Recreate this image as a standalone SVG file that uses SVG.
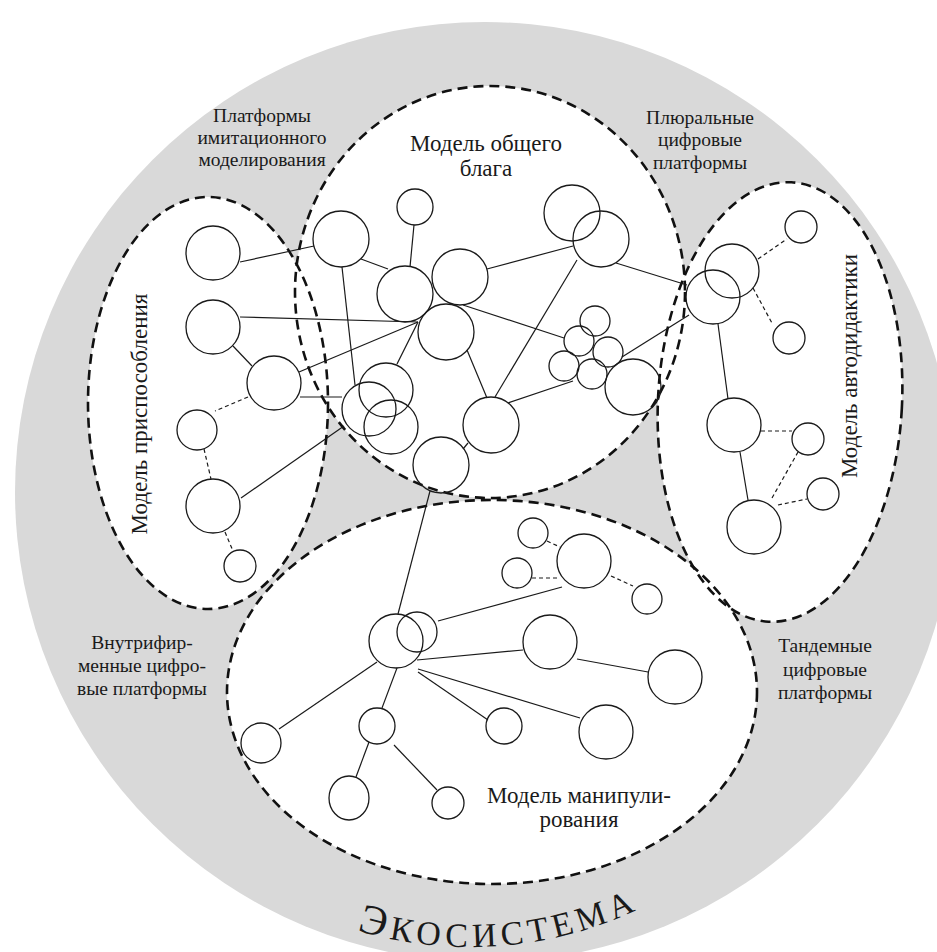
<svg xmlns="http://www.w3.org/2000/svg" width="937" height="952" viewBox="0 0 937 952">
<style>
.bg{fill:#ffffff}
.eco{fill:#d9d9d9}
.rfill{fill:#ffffff;stroke:none}
.rline{fill:none;stroke:#111;stroke-width:2.6;stroke-dasharray:10 6}
.n{fill:none;stroke:#1a1a1a;stroke-width:1.3}
.e{stroke:#1a1a1a;stroke-width:1.2;fill:none}
.d{stroke:#1a1a1a;stroke-width:1.2;fill:none;stroke-dasharray:4 3}
.t{font-family:"Liberation Serif","Times New Roman",serif;fill:#1a1a1a;text-anchor:middle}
.s{font-size:19.5px}
.m{font-size:23px}
</style>
<defs>
<path id="arc" d="M 77,554 A 393 393 0 0 0 863,554"/>
</defs>
<rect class="bg" x="0" y="0" width="937" height="952"/>
<g id="ecosystem">
<circle class="eco" cx="485" cy="492" r="470"/>
<text class="t" style="letter-spacing:5px;font-size:34px"><textPath href="#arc" startOffset="52.5%"><tspan style="font-size:42px">Э</tspan>КОСИСТЕМА</textPath></text>
</g>
<g id="regions">
<ellipse class="rfill" cx="208" cy="403" rx="120" ry="206"/>
<ellipse class="rfill" cx="490" cy="292" rx="195" ry="206"/>
<ellipse class="rfill" cx="780" cy="402" rx="122" ry="220" transform="rotate(3 780 402)"/>
<ellipse class="rfill" cx="492" cy="692" rx="265" ry="192"/>
<ellipse class="rline" cx="208" cy="403" rx="120" ry="206"/>
<ellipse class="rline" cx="490" cy="292" rx="195" ry="206"/>
<ellipse class="rline" cx="780" cy="402" rx="122" ry="220" transform="rotate(3 780 402)"/>
<ellipse class="rline" cx="492" cy="692" rx="265" ry="192"/>
</g>
<g id="connectors">
<line class="e" x1="240" y1="262" x2="314" y2="246"/>
<line class="e" x1="240" y1="317" x2="418" y2="322"/>
<line class="e" x1="233" y1="346" x2="252" y2="366"/>
<line class="e" x1="299" y1="372" x2="418" y2="322"/>
<line class="e" x1="300" y1="397" x2="342" y2="397"/>
<line class="e" x1="241" y1="498" x2="344" y2="426"/>
<line class="d" x1="248" y1="397" x2="215" y2="411"/>
<line class="d" x1="204" y1="449" x2="211" y2="479"/>
<line class="d" x1="225" y1="532" x2="233" y2="551"/>
<line class="e" x1="361" y1="259" x2="388" y2="269"/>
<line class="e" x1="414" y1="225" x2="410" y2="267"/>
<line class="e" x1="342" y1="267" x2="355" y2="385"/>
<line class="e" x1="487" y1="269" x2="573" y2="246"/>
<line class="e" x1="463" y1="305" x2="564" y2="338"/>
<line class="e" x1="467" y1="350" x2="487" y2="398"/>
<line class="e" x1="577" y1="260" x2="495" y2="397"/>
<line class="e" x1="508" y1="403" x2="573" y2="381"/>
<line class="e" x1="616" y1="263" x2="687" y2="285"/>
<line class="e" x1="622" y1="357" x2="689" y2="315"/>
<line class="e" x1="397" y1="364" x2="418" y2="322"/>
<line class="e" x1="468" y1="443" x2="463" y2="449"/>
<line class="e" x1="430" y1="491" x2="398" y2="614"/>
<line class="d" x1="758" y1="259" x2="787" y2="239"/>
<line class="d" x1="753" y1="288" x2="773" y2="325"/>
<line class="e" x1="718" y1="324" x2="728" y2="399"/>
<line class="d" x1="761" y1="431" x2="792" y2="431"/>
<line class="e" x1="740" y1="452" x2="748" y2="500"/>
<line class="d" x1="772" y1="498" x2="798" y2="452"/>
<line class="d" x1="778" y1="505" x2="807" y2="499"/>
<line class="d" x1="547" y1="541" x2="560" y2="547"/>
<line class="d" x1="532" y1="578" x2="558" y2="578"/>
<line class="d" x1="611" y1="576" x2="633" y2="586"/>
<line class="e" x1="438" y1="621" x2="562" y2="587"/>
<line class="e" x1="417" y1="660" x2="523" y2="650"/>
<line class="e" x1="577" y1="659" x2="648" y2="672"/>
<line class="e" x1="418" y1="669" x2="580" y2="718"/>
<line class="e" x1="418" y1="672" x2="488" y2="720"/>
<line class="e" x1="377" y1="662" x2="279" y2="729"/>
<line class="e" x1="397" y1="668" x2="382" y2="708"/>
<line class="e" x1="369" y1="742" x2="356" y2="777"/>
<line class="e" x1="394" y1="745" x2="437" y2="790"/>
</g>
<g id="model-adaptation">
<circle id="a1" class="n" cx="213" cy="253" r="27"/>
<circle id="a2" class="n" cx="213" cy="327" r="27"/>
<circle id="a3" class="n" cx="274" cy="383" r="27"/>
<circle id="a4" class="n" cx="197" cy="430" r="20"/>
<circle id="a5" class="n" cx="213" cy="506" r="27"/>
<circle id="a6" class="n" cx="240" cy="566" r="16"/>
<text class="t m" transform="translate(147 414) rotate(-90)">Модель приспособления</text>
</g>
<g id="model-common-good">
<circle id="c1" class="n" cx="341" cy="239" r="28"/>
<circle id="c2" class="n" cx="415" cy="207" r="18"/>
<circle id="c3" class="n" cx="405" cy="294" r="28"/>
<circle id="c4" class="n" cx="460" cy="277" r="28"/>
<circle id="c5" class="n" cx="446" cy="332" r="28"/>
<circle id="c6" class="n" cx="572" cy="213" r="28"/>
<circle id="c7" class="n" cx="601" cy="239" r="28"/>
<circle id="s1" class="n" cx="595" cy="321" r="15"/>
<circle id="s2" class="n" cx="579" cy="341" r="15"/>
<circle id="s3" class="n" cx="608" cy="352" r="15"/>
<circle id="s4" class="n" cx="564" cy="366" r="15"/>
<circle id="s5" class="n" cx="592" cy="374" r="15"/>
<circle id="c8" class="n" cx="633" cy="387" r="28"/>
<circle id="c9" class="n" cx="491" cy="425" r="28"/>
<circle id="c10" class="n" cx="441" cy="465" r="28"/>
<circle id="t1" class="n" cx="386" cy="390" r="27"/>
<circle id="t2" class="n" cx="369" cy="409" r="27"/>
<circle id="t3" class="n" cx="391" cy="427" r="27"/>
<text class="t m" x="486" y="151">Модель общего</text>
<text class="t m" x="486" y="176">блага</text>
</g>
<g id="model-autodidactics">
<circle id="d1" class="n" cx="713" cy="297" r="27"/>
<circle id="d2" class="n" cx="732" cy="271" r="27"/>
<circle id="d3" class="n" cx="801" cy="227" r="16"/>
<circle id="d4" class="n" cx="789" cy="338" r="16"/>
<circle id="d5" class="n" cx="734" cy="425" r="27"/>
<circle id="d6" class="n" cx="808" cy="439" r="16"/>
<circle id="d7" class="n" cx="823" cy="494" r="16"/>
<circle id="d8" class="n" cx="754" cy="527" r="27"/>
<text class="t m" transform="translate(857 366) rotate(-90)">Модель автодидактики</text>
</g>
<g id="model-manipulation">
<circle id="m1" class="n" cx="396" cy="641" r="27"/>
<circle id="m2" class="n" cx="417" cy="632" r="20"/>
<circle id="m3" class="n" cx="533" cy="533" r="15"/>
<circle id="m4" class="n" cx="584" cy="561" r="27"/>
<circle id="m5" class="n" cx="517" cy="573" r="15"/>
<circle id="m6" class="n" cx="647" cy="599" r="15"/>
<circle id="m7" class="n" cx="550" cy="642" r="27"/>
<circle id="m8" class="n" cx="675" cy="677" r="27"/>
<circle id="m9" class="n" cx="606" cy="732" r="27"/>
<circle id="m10" class="n" cx="504" cy="726" r="18"/>
<circle id="m11" class="n" cx="377" cy="726" r="18"/>
<circle id="m12" class="n" cx="261" cy="743" r="20"/>
<ellipse id="m13" class="n" cx="349" cy="798" rx="20" ry="22"/>
<circle id="m14" class="n" cx="448" cy="803" r="16"/>
<text class="t m" x="579" y="803">Модель манипули-</text>
<text class="t m" x="579" y="827">рования</text>
</g>
<g id="labels">
<text class="t s" x="262" y="122">Платформы</text>
<text class="t s" x="262" y="144">имитационного</text>
<text class="t s" x="262" y="166">моделирования</text>
<text class="t s" x="700" y="124">Плюральные</text>
<text class="t s" x="700" y="146">цифровые</text>
<text class="t s" x="700" y="169">платформы</text>
<text class="t s" x="142" y="649">Внутрифир-</text>
<text class="t s" x="142" y="672">менные цифро-</text>
<text class="t s" x="142" y="695">вые платформы</text>
<text class="t s" x="825" y="652">Тандемные</text>
<text class="t s" x="825" y="676">цифровые</text>
<text class="t s" x="825" y="699">платформы</text>
</g>
</svg>
